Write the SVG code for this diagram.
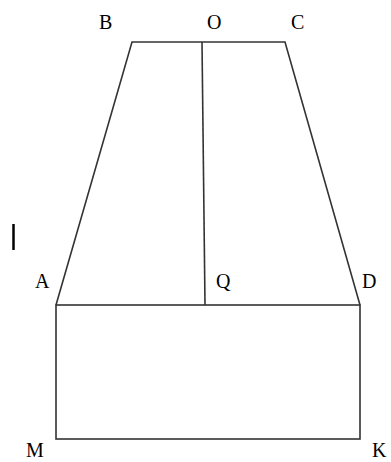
<svg xmlns="http://www.w3.org/2000/svg" width="391" height="462" viewBox="0 0 391 462">
<style>
.lbl{font-family:"Liberation Serif","Times New Roman",serif;font-size:20px;fill:#000}
.ln{stroke:#333;stroke-width:1.6;fill:none}
</style>
<rect width="391" height="462" fill="#fff"/>
<g id="connectors">
<polyline class="ln" points="56,305 132,42 285,42 360,305"/>
<line class="ln" x1="202" y1="42" x2="205" y2="305"/>
<rect class="ln" x="56" y="305" width="304" height="134"/>
</g>
<line x1="13.5" y1="224" x2="13.5" y2="250" stroke="#000" stroke-width="2.5"/>
<g id="B"><text class="lbl" x="99" y="29">B</text></g>
<g id="O"><text class="lbl" x="207" y="29">O</text></g>
<g id="C"><text class="lbl" x="291" y="29">C</text></g>
<g id="A"><text class="lbl" x="35" y="288">A</text></g>
<g id="Q"><text class="lbl" x="216" y="288">Q</text></g>
<g id="D"><text class="lbl" x="362" y="288">D</text></g>
<g id="M"><text class="lbl" x="26" y="457">M</text></g>
<g id="K"><text class="lbl" x="372" y="457">K</text></g>
</svg>
